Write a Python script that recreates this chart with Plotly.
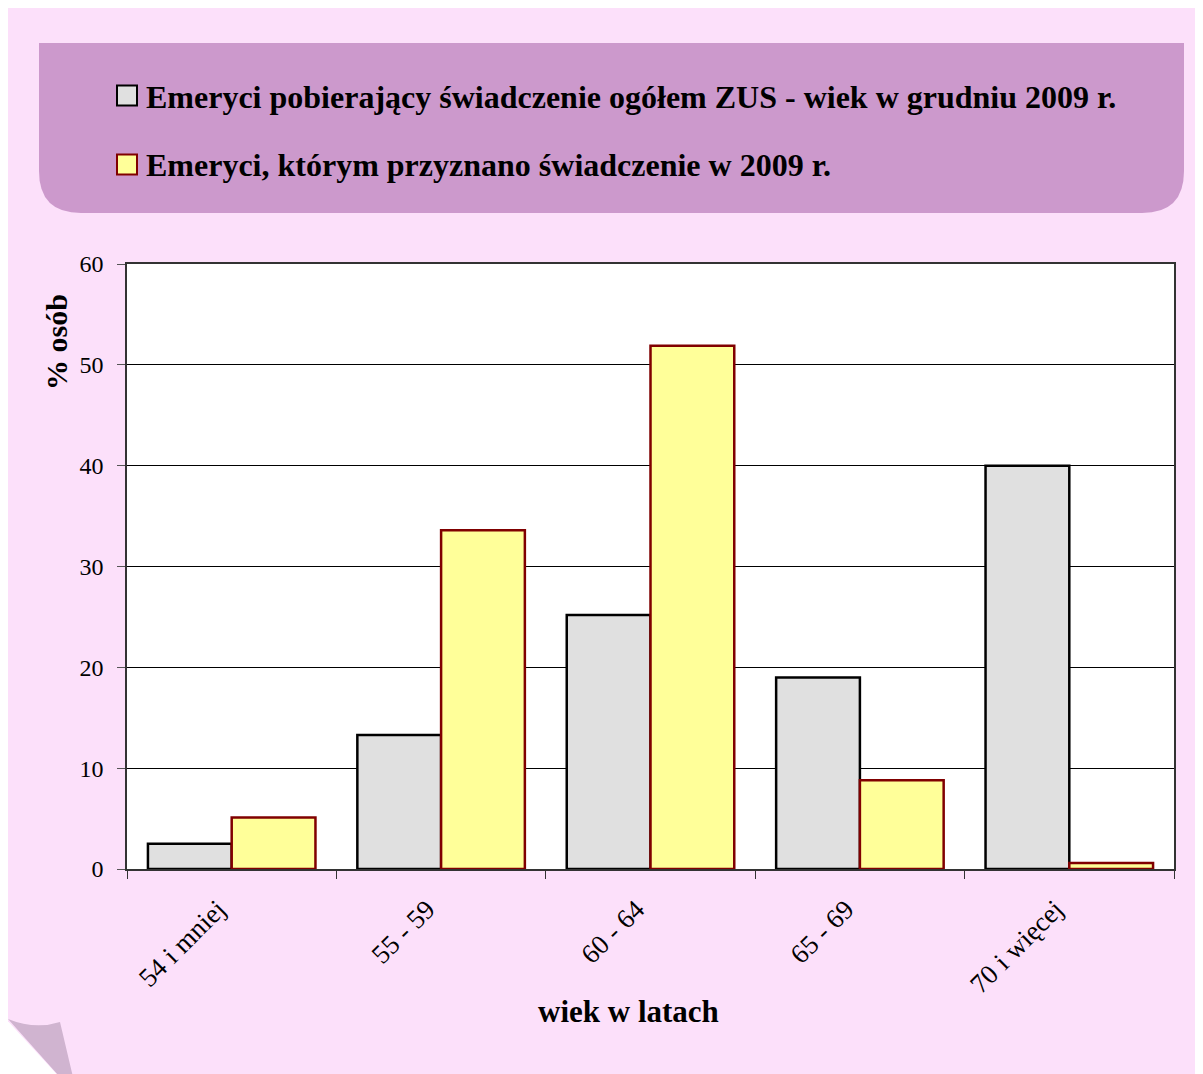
import plotly.graph_objects as go

categories = ["54 i mniej", "55 - 59", "60 - 64", "65 - 69", "70 i więcej"]
ogolem = [2.5, 13.3, 25.2, 19.0, 40.0]
przyznane = [5.1, 33.6, 51.9, 8.8, 0.6]
series_names = ["Emeryci pobierający świadczenie ogółem ZUS - wiek w grudniu 2009 r.",
                "Emeryci, którym przyznano świadczenie w 2009 r."]
y_ticks = [0, 10, 20, 30, 40, 50, 60]

W, H = 1203, 1074
OFF = 8  # page margin of the html body
# plot area in page coordinates
L, R, T, B = 127, 1174, 264, 869
FONT = "Liberation Serif, Times New Roman, serif"


def px(x):
    return (x - L) / (R - L)


def py(y):
    return (B - y) / (B - T)


def path(points_cmds):
    out = []
    for item in points_cmds:
        if isinstance(item, str):
            out.append(item)
        else:
            out.append(f"{px(item[0]):.5f},{py(item[1]):.5f}")
    return " ".join(out)


fig = go.Figure()
fig.add_trace(go.Bar(x=categories, y=ogolem, name=series_names[0],
                     marker=dict(color="#E0E0E0", line=dict(color="#000000", width=2.5))))
fig.add_trace(go.Bar(x=categories, y=przyznane, name=series_names[1],
                     marker=dict(color="#FFFF99", line=dict(color="#800000", width=2.5))))

shapes = []
# white corner under the fold
corner = path(["M", (OFF - 2, 1019), "L", (75, H + 20), "L", (OFF - 2, H + 20), "Z"])
shapes.append(dict(type="path", xref="paper", yref="paper", path=corner,
                   fillcolor="#FFFFFF", line=dict(width=0), layer="below"))
fold = path(["M", (OFF, 1019), "Q", (35, 1030), "", (60, 1022), "L", (77, H + 20),
             "L", (75, H + 20), "Z"])
shapes.append(dict(type="path", xref="paper", yref="paper", path=fold,
                   fillcolor="#D0B4D0", line=dict(width=0), layer="below"))
# legend panel with rounded bottom corners
r = 42
lx0, lx1, ly0, ly1 = 39, 1184, 43, 213
panel = path(["M", (lx0, ly0), "L", (lx1, ly0), "L", (lx1, ly1 - r),
              "Q", (lx1, ly1), "", (lx1 - r, ly1), "L", (lx0 + r, ly1),
              "Q", (lx0, ly1), "", (lx0, ly1 - r), "Z"])
shapes.append(dict(type="path", xref="paper", yref="paper", path=panel,
                   fillcolor="#CC99CC", line=dict(width=0), layer="below"))
# plot area background
shapes.append(dict(type="rect", xref="paper", yref="paper", x0=0, x1=1, y0=0, y1=1,
                   fillcolor="#FFFFFF", line=dict(width=0), layer="below"))
# legend markers
for (yc, fc, lc) in [(95.5, "#E0E0E0", "#000000"), (164.5, "#FFFF99", "#800000")]:
    shapes.append(dict(type="rect", xref="paper", yref="paper",
                       x0=px(117), x1=px(137), y0=py(yc - 10), y1=py(yc + 10),
                       fillcolor=fc, line=dict(color=lc, width=2), layer="above"))

annotations = []
for name, yc in zip(series_names, [97, 165]):
    annotations.append(dict(text=f"<b>{name}</b>", xref="paper", yref="paper",
                            x=px(144), y=py(yc), xanchor="left", yanchor="middle",
                            showarrow=False, font=dict(family=FONT, size=32, color="#000000")))
annotations.append(dict(text="<b>% osób</b>", xref="paper", yref="paper",
                        x=px(56), y=py(342), xanchor="center", yanchor="middle", textangle=-90,
                        showarrow=False, font=dict(family=FONT, size=30, color="#000000")))
annotations.append(dict(text="<b>wiek w latach</b>", xref="paper", yref="paper",
                        x=px(628), y=py(1011), xanchor="center", yanchor="middle",
                        showarrow=False, font=dict(family=FONT, size=31, color="#000000")))

fig.update_layout(
    width=W, height=H,
    margin=dict(l=L - OFF, r=W - (R - OFF), t=T - OFF, b=H - (B - OFF), pad=0),
    paper_bgcolor="#FCE0FA",
    plot_bgcolor="rgba(0,0,0,0)",
    barmode="group", bargap=0.2, bargroupgap=0,
    showlegend=False,
    shapes=shapes, annotations=annotations,
    font=dict(family=FONT, size=24, color="#000000"),
)
fig.update_xaxes(type="category", tickangle=-45, tickson="boundaries", ticks="outside",
                 ticklen=8, tickcolor="#333333", showline=True, linecolor="#333333",
                 linewidth=1.5, mirror=True, showgrid=False,
                 ticklabelstandoff=12, ticklabelshift=-14,
                 tickfont=dict(family=FONT, size=27, color="#000000"))
fig.update_yaxes(range=[0, 60], tickvals=y_ticks, ticks="outside", ticklen=8,
                 tickcolor="#555555", showline=True, linecolor="#333333", linewidth=1.5,
                 mirror=True, showgrid=True, gridcolor="#000000", gridwidth=1,
                 zeroline=False, ticklabelstandoff=9,
                 tickfont=dict(family=FONT, size=24, color="#000000"))

fig.write_html("out.html")
